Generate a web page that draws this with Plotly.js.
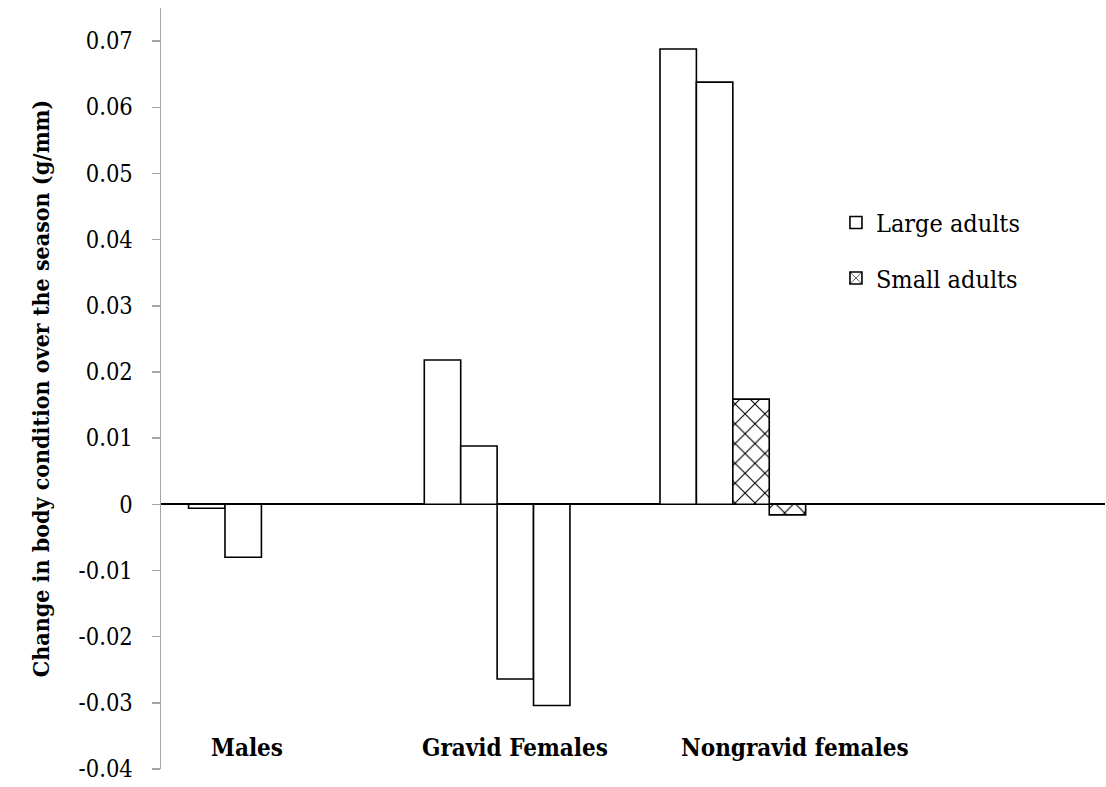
<!DOCTYPE html>
<html><head><meta charset="utf-8">
<script src="https://cdn.plot.ly/plotly-3.0.1.min.js"></script>
<style>html,body{margin:0;padding:0;background:#fff}#chart{width:1106px;height:787px}</style>
</head><body><div id="chart"></div>
<script>
// ---- data ----
const categories = ["Males", "Gravid Females", "Nongravid females"];
const series1 = [-0.0006, 0.0218, 0.0688];
const series2 = [-0.0080, 0.0088, 0.0638];
const series3 = [null, -0.0264, 0.0159];
const series4 = [null, -0.0304, -0.0016];
// which points are drawn as "Small adults" (patterned)
const smallMask1 = [false, false, false];
const smallMask2 = [false, false, false];
const smallMask3 = [false, false, true];
const smallMask4 = [false, false, true];
const legendLabels = ["Large adults", "Small adults"];
const yTickText = ["-0.04", "-0.03", "-0.02", "-0.01", "0", "0.01", "0.02", "0.03", "0.04", "0.05", "0.06", "0.07"];
const yTitle = "Change in body condition over the season (g/mm)";

// ---- build ----
const FONT = '"DejaVu Serif Condensed", "DejaVu Serif", serif';
const allSeries = [series1, series2, series3, series4];
const allMasks = [smallMask1, smallMask2, smallMask3, smallMask4];
const traces = [];
let largeShown = false, smallShown = false;
allSeries.forEach((s, i) => {
  const m = allMasks[i];
  const plain = s.map((v, j) => m[j] ? null : v);
  const patt = s.map((v, j) => m[j] ? v : null);
  if (plain.some(v => v !== null)) {
    traces.push({
      type: 'bar', x: categories, y: plain, offsetgroup: 'g' + i,
      name: legendLabels[0], legendgroup: 'large', showlegend: !largeShown,
      marker: {color: '#ffffff', line: {color: '#000000', width: 1.6}},
      hoverinfo: 'y'
    });
    largeShown = true;
  }
  if (patt.some(v => v !== null)) {
    traces.push({
      type: 'bar', x: categories, y: patt, offsetgroup: 'g' + i,
      name: legendLabels[1], legendgroup: 'small', showlegend: !smallShown,
      marker: {color: '#ffffff', line: {color: '#000000', width: 1.6},
        pattern: {shape: 'x', fgcolor: '#000000', bgcolor: '#ffffff', size: 14, solidity: 0.15}},
      hoverinfo: 'y'
    });
    smallShown = true;
  }
});
const labelAnn = [
  {text: categories[0], x: 0.0911},
  {text: categories[1], x: 0.375},
  {text: categories[2], x: 0.6716}
].map(a => ({
  text: a.text, x: a.x, xref: 'paper', y: -0.0368, yref: 'y',
  xanchor: 'center', yanchor: 'middle', showarrow: false,
  font: {family: FONT, size: 24, color: '#000', weight: 'bold'}
}));

const layout = {
  width: 1106, height: 787,
  margin: {l: 161, r: 1, t: 8, b: 18},
  paper_bgcolor: '#ffffff', plot_bgcolor: '#ffffff',
  barmode: 'group', bargap: 0.382, bargroupgap: 0,
  showlegend: true,
  legend: {
    x: 0.715, y: 0.748, xanchor: 'left', yanchor: 'top',
    traceorder: 'grouped', tracegroupgap: 20,
    font: {family: FONT, size: 25, color: '#000'},
    bgcolor: 'rgba(0,0,0,0)', itemwidth: 30
  },
  xaxis: {
    type: 'category', range: [-0.426, 3.579],
    showticklabels: false, ticks: '', showline: false, showgrid: false, zeroline: false
  },
  yaxis: {
    range: [-0.04, 0.075],
    tickmode: 'array',
    tickvals: yTickText.map(Number), ticktext: yTickText,
    ticks: 'outside', ticklen: 8, tickwidth: 1.5, tickcolor: '#a6a6a6',
    showline: true, linecolor: '#a6a6a6', linewidth: 1.5,
    showgrid: false,
    zeroline: true, zerolinecolor: '#000000', zerolinewidth: 1.6,
    tickfont: {family: FONT, size: 23.5, color: '#000'},
    ticklabelstandoff: 14,
    title: {text: yTitle, font: {family: FONT, size: 23, color: '#000', weight: 'bold'}, standoff: 22}
  },
  annotations: labelAnn
};
Plotly.newPlot('chart', traces, layout, {displayModeBar: false, staticPlot: true});
</script></body></html>
